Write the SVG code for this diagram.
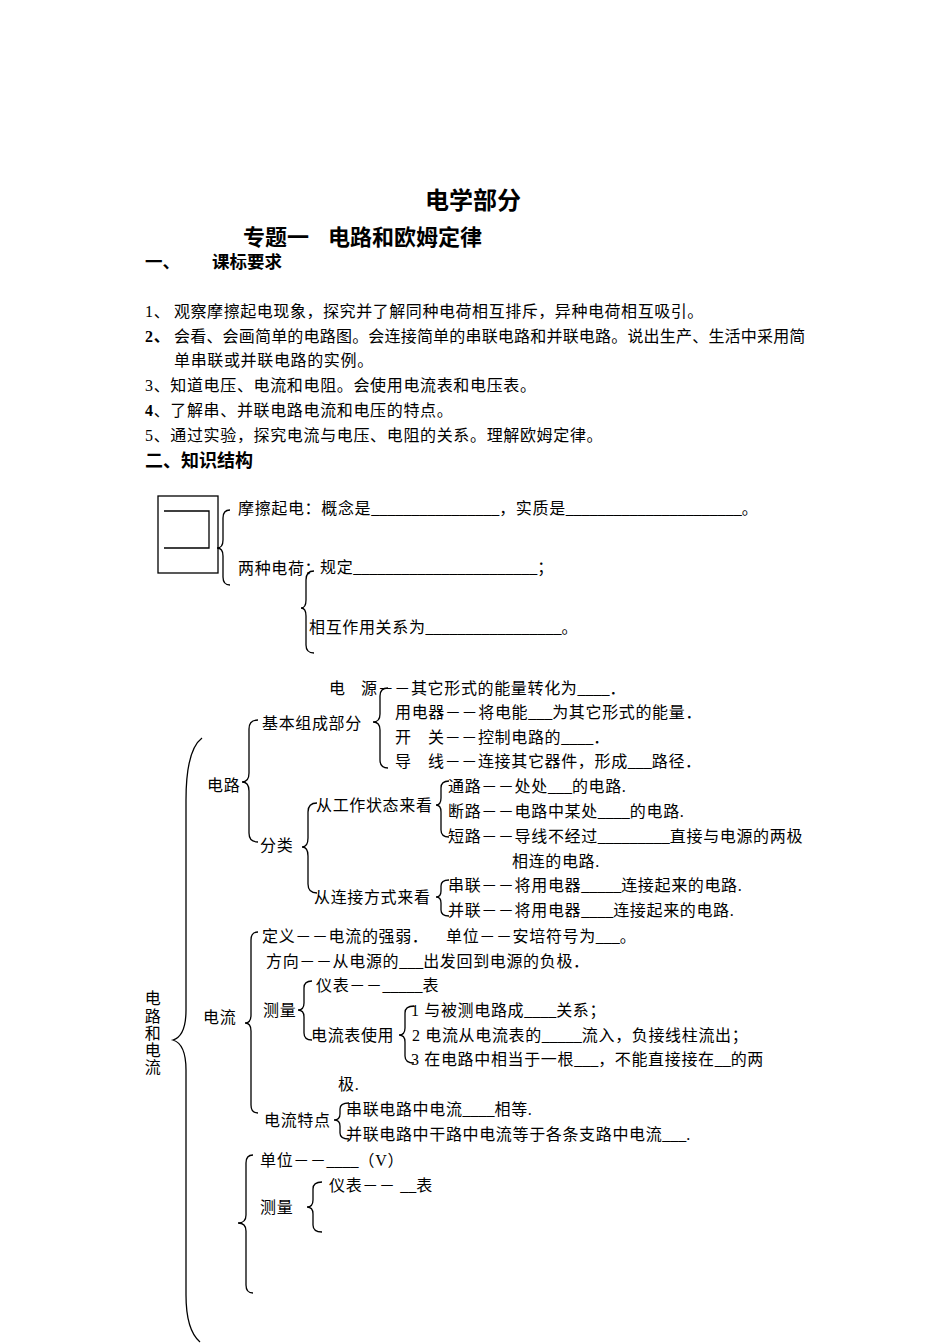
<svg xmlns="http://www.w3.org/2000/svg" width="950" height="1344" viewBox="0 0 950 1344">
<style>
.t{font-family:"Liberation Serif","Noto Sans CJK SC",serif;font-size:16px;fill:#000;letter-spacing:0.65px}
.u{letter-spacing:0}
.h{font-family:"Noto Sans CJK SC","Liberation Sans",sans-serif;font-weight:bold;fill:#000}
.b{fill:none;stroke:#000;stroke-width:1.3}
</style>
<rect width="950" height="1344" fill="#fff"/>
<g id="title">
<text class="h" x="473" y="209" font-size="24" text-anchor="middle">电学部分</text>
<text class="h" x="243" y="245" font-size="22">专题一</text>
<text class="h" x="328" y="245" font-size="22">电路和欧姆定律</text>
<text class="h" x="145" y="268" font-size="17.5">一、</text>
<text class="h" x="212" y="268" font-size="17.5">课标要求</text>
</g>
<g id="requirements">
<text class="t" x="145" y="317">1、</text>
<text class="t" x="174" y="317" textLength="530" lengthAdjust="spacing">观察摩擦起电现象，探究并了解同种电荷相互排斥，异种电荷相互吸引。</text>
<text class="t" x="145" y="342" font-weight="bold">2、</text>
<text class="t" x="174" y="342" textLength="632" lengthAdjust="spacing">会看、会画简单的电路图。会连接简单的串联电路和并联电路。说出生产、生活中采用简</text>
<text class="t" x="174" y="366">单串联或并联电路的实例。</text>
<text class="t" x="145" y="391">3、知道电压、电流和电阻。会使用电流表和电压表。</text>
<text class="t" x="145" y="416"><tspan font-weight="bold">4</tspan>、了解串、并联电路电流和电压的特点。</text>
<text class="t" x="145" y="441">5、通过实验，探究电流与电压、电阻的关系。理解欧姆定律。</text>
<text class="h" x="145" y="467" font-size="18">二、知识结构</text>
</g>
<g id="friction-box">
<rect x="158" y="496" width="60" height="77" fill="none" stroke="#000" stroke-width="1.3"/>
<path class="b" d="M164,511 H209 V548 H164"/>
</g>
<g id="friction">
<text class="t" x="238" y="514">摩擦起电：概念是<tspan class="u">________________</tspan>，实质是<tspan class="u">______________________</tspan>。</text>
</g>
<g id="charges">
<text class="t" x="238" y="574">两种电荷：</text>
</g>
<g id="charges-rule">
<text class="t" x="320" y="573">规定<tspan class="u">_______________________</tspan>；</text>
</g>
<g id="charges-interaction">
<text class="t" x="309" y="633">相互作用关系为<tspan class="u">_________________</tspan>。</text>
</g>
<g id="circuit-current">
<text class="t" x="153" y="1004" text-anchor="middle">电</text>
<text class="t" x="153" y="1022" text-anchor="middle">路</text>
<text class="t" x="153" y="1039" text-anchor="middle">和</text>
<text class="t" x="153" y="1056" text-anchor="middle">电</text>
<text class="t" x="153" y="1073" text-anchor="middle">流</text>
</g>
<g id="circuit"><text class="t" x="207" y="791">电路</text></g>
<g id="basic-parts"><text class="t" x="262" y="729">基本组成部分</text></g>
<g id="parts">
<text class="t" x="329" y="694">电</text>
<text class="t" x="361" y="694">源－－其它形式的能量转化为<tspan class="u">____</tspan>．</text>
<text class="t" x="395" y="718">用电器－－将电能<tspan class="u">___</tspan>为其它形式的能量．</text>
<text class="t" x="395" y="743">开</text>
<text class="t" x="428" y="743">关－－控制电路的<tspan class="u">____</tspan>．</text>
<text class="t" x="395" y="767">导</text>
<text class="t" x="428" y="767">线－－连接其它器件，形成<tspan class="u">___</tspan>路径．</text>
</g>
<g id="classify"><text class="t" x="260" y="851">分类</text></g>
<g id="by-state"><text class="t" x="316" y="811">从工作状态来看</text></g>
<g id="states">
<text class="t" x="448" y="792">通路－－处处<tspan class="u">___</tspan>的电路.</text>
<text class="t" x="448" y="817">断路－－电路中某处<tspan class="u">____</tspan>的电路.</text>
<text class="t" x="448" y="842">短路－－导线不经过<tspan class="u">_________</tspan>直接与电源的两极</text>
<text class="t" x="512" y="867">相连的电路.</text>
</g>
<g id="by-connection"><text class="t" x="314" y="903">从连接方式来看</text></g>
<g id="connections">
<text class="t" x="448" y="891">串联－－将用电器<tspan class="u">_____</tspan>连接起来的电路.</text>
<text class="t" x="448" y="916">并联－－将用电器<tspan class="u">____</tspan>连接起来的电路.</text>
</g>
<g id="current"><text class="t" x="203" y="1023">电流</text></g>
<g id="current-def">
<text class="t" x="262" y="942">定义－－电流的强弱．</text>
<text class="t" x="446" y="942">单位－－安培符号为<tspan class="u">___</tspan>。</text>
<text class="t" x="266" y="967">方向－－从电源的<tspan class="u">___</tspan>出发回到电源的负极．</text>
</g>
<g id="current-measure"><text class="t" x="263" y="1016">测量</text></g>
<g id="ammeter"><text class="t" x="316" y="991">仪表－－<tspan class="u">_____</tspan>表</text></g>
<g id="ammeter-use"><text class="t" x="311" y="1041">电流表使用</text></g>
<g id="ammeter-rules">
<text class="t" x="411" y="1016">1 与被测电路成<tspan class="u">____</tspan>关系；</text>
<text class="t" x="412" y="1041">2 电流从电流表的<tspan class="u">_____</tspan>流入，负接线柱流出；</text>
<text class="t" x="411" y="1065">3 在电路中相当于一根<tspan class="u">___</tspan>，不能直接接在<tspan class="u">__</tspan>的两</text>
<text class="t" x="338" y="1090">极.</text>
</g>
<g id="current-features"><text class="t" x="264" y="1126">电流特点</text></g>
<g id="features">
<text class="t" x="346" y="1115">串联电路中电流<tspan class="u">____</tspan>相等.</text>
<text class="t" x="346" y="1140">并联电路中干路中电流等于各条支路中电流<tspan class="u">___</tspan>.</text>
</g>
<g id="voltage-unit"><text class="t" x="260" y="1166">单位－－<tspan class="u">____</tspan>（V）</text></g>
<g id="voltage-measure"><text class="t" x="260" y="1213">测量</text></g>
<g id="voltmeter"><text class="t" x="329" y="1191">仪表－－ <tspan class="u">__</tspan>表</text></g>
<g id="connectors">
<path class="b" d="M230,510 Q223,510 223,518 L223,540 Q223,548 217,548 Q223,548 223,556 L223,577 Q223,585 230,585"/>
<path class="b" d="M314,571 Q306,571 306,580 L306,600 Q306,608 301,608 Q306,608 306,616 L306,645 Q306,653 314,653"/>
<path class="b" d="M202,738 Q186,750 186,800 L186,1010 Q186,1036 173,1040 Q186,1044 186,1070 L186,1295 Q186,1330 200,1342"/>
<path class="b" d="M258,720 Q249,720 249,729 L249,773 Q249,782 242,782 Q249,782 249,791 L249,833 Q249,842 258,842"/>
<path class="b" d="M388,688 Q380,688 380,696 L380,714 Q380,722 373,722 Q380,722 380,730 L380,760 Q380,768 388,768"/>
<path class="b" d="M317,803 Q308,803 308,812 L308,838 Q308,847 302,847 Q308,847 308,856 L308,884 Q308,893 317,893"/>
<path class="b" d="M449,781 Q441,781 441,788 L441,798 Q441,805 436,805 Q441,805 441,812 L441,830 Q441,837 449,837"/>
<path class="b" d="M449,880 Q441,880 441,886 L441,891 Q441,897 436,897 Q441,897 441,903 L441,910 Q441,916 449,916"/>
<path class="b" d="M258,932 Q251,932 251,940 L251,1015 Q251,1023 245,1023 Q251,1023 251,1031 L251,1105 Q251,1113 258,1113"/>
<path class="b" d="M312,981 Q304,981 304,988 L304,1003 Q304,1010 298,1010 Q304,1010 304,1017 L304,1033 Q304,1040 312,1040"/>
<path class="b" d="M414,1006 Q405,1006 405,1013 L405,1028 Q405,1035 399,1035 Q405,1035 405,1042 L405,1056 Q405,1063 414,1063"/>
<path class="b" d="M349,1103 Q340,1103 340,1109 L340,1114 Q340,1120 334,1120 Q340,1120 340,1126 L340,1133 Q340,1139 349,1139"/>
<path class="b" d="M253,1155 Q246,1155 246,1163 L246,1215 Q246,1223 238,1223 Q246,1223 246,1231 L246,1285 Q246,1293 253,1293"/>
<path class="b" d="M322,1182 Q313,1182 313,1189 L313,1200 Q313,1207 307,1207 Q313,1207 313,1214 L313,1225 Q313,1232 322,1232"/>
</g>
</svg>
